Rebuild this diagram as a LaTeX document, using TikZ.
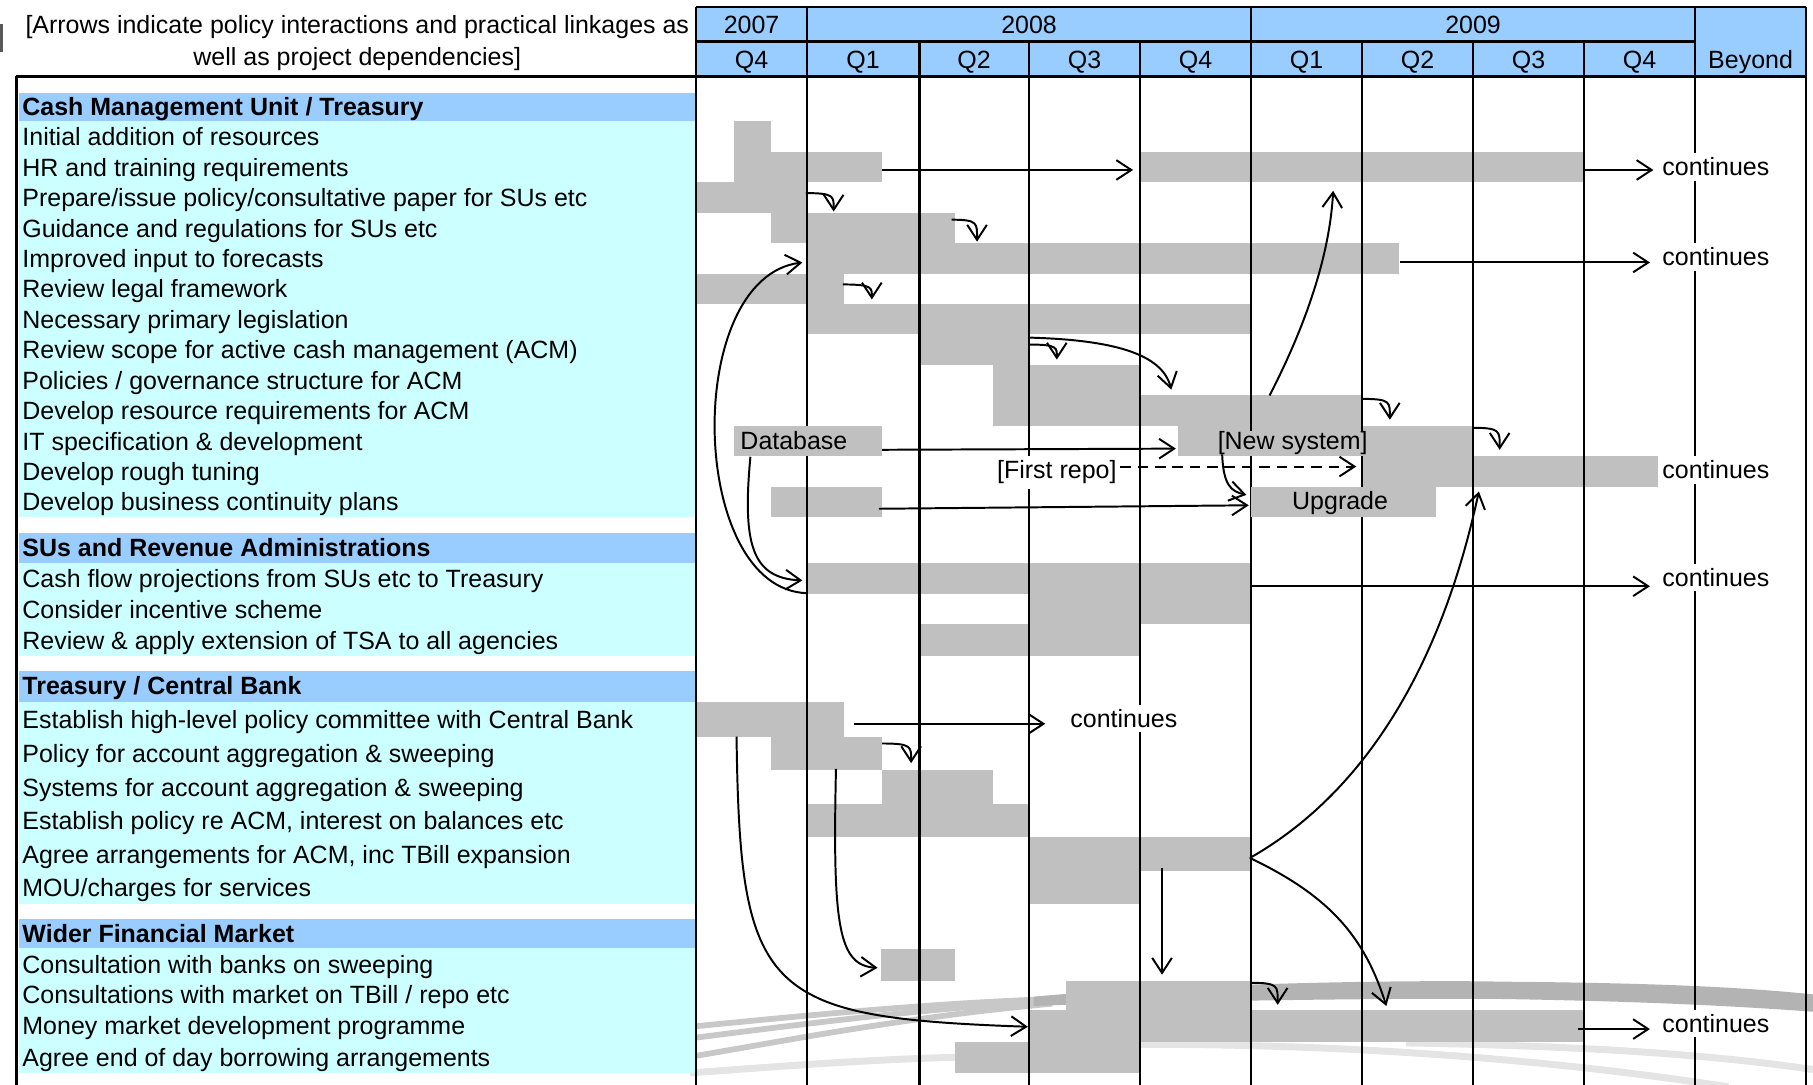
\documentclass[tikz,border=0pt]{standalone}
\usepackage{fontspec}
\setmainfont{Liberation Sans}
\usetikzlibrary{arrows.meta}
\definecolor{hdrblue}{HTML}{99CCFF}
\definecolor{rowcyan}{HTML}{CCFFFF}
\definecolor{barc}{HTML}{C0C0C0}
\definecolor{swband}{HTML}{B3B3B3}
\definecolor{swmid}{HTML}{C8C8C8}
\definecolor{swlight}{HTML}{E4E4E4}
\begin{document}
\begin{tikzpicture}[x=0.5pt,y=-0.5pt,
  every node/.style={font=\fontsize{10.8}{12}\selectfont, inner sep=0pt},
  lbl/.style={anchor=base west},
  sec/.style={anchor=base west, font=\fontsize{10.8}{12}\selectfont\bfseries},
  hdr/.style={anchor=base},
  gridln/.style={line width=1.15pt},
  arr/.style={line width=0.85pt, -{Straight Barb[length=6.5pt,width=8.5pt,line width=0.85pt]}},
  dasharr/.style={arr, dash pattern=on 4.5pt off 3pt},
  cont/.style={anchor=base, fill=white, inner xsep=1.5pt, inner ysep=2pt},
  boxlbl/.style={anchor=base, fill=barc, inner xsep=1pt, inner ysep=0.5pt},
  gbar/.style={fill=barc}]

\useasboundingbox (0,0) rectangle (1568,938);

% ---------- background swoosh ----------
\draw[line width=3pt, swlight] (906,904) .. controls (1100,900) and (1300,910) .. (1495,940);
\draw[line width=3pt, swlight] (1216,902) .. controls (1400,905) and (1500,915) .. (1568,925);
\draw[line width=3pt, swlight] (597,928) .. controls (700,920) and (780,915) .. (845,914);
\draw[line width=2.5pt, swmid] (597,888) .. controls (700,878) and (800,868) .. (910,864);
\draw[line width=2.5pt, swmid] (597,898) .. controls (700,885) and (800,872) .. (910,866);
\draw[line width=2.5pt, swmid] (597,914) .. controls (680,900) and (780,880) .. (910,868);
\fill[swband] (894,862) .. controls (1000,852) and (1200,847) .. (1300,849)
   .. controls (1420,850) and (1500,853) .. (1568,860) -- (1568,875)
   .. controls (1500,870) and (1420,866) .. (1300,864)
   .. controls (1200,863) and (1000,866) .. (894,870) -- cycle;
\fill[gray!70!black] (0,21) rectangle (2.5,45);

% ---------- left column fills ----------
\fill[hdrblue] (16,80) rectangle (602,105);
\fill[rowcyan] (16,105) rectangle (602,447);
\fill[hdrblue] (16,461) rectangle (602,487);
\fill[rowcyan] (16,487) rectangle (602,567);
\fill[hdrblue] (16,580) rectangle (602,607);
\fill[rowcyan] (16,607) rectangle (602,782);
\fill[hdrblue] (16,795) rectangle (602,820);
\fill[rowcyan] (16,820) rectangle (602,928);

% ---------- header fill ----------
\fill[hdrblue] (602,6) rectangle (1562,66);

% ---------- bars ----------
\fill[gbar] (635,105) rectangle (667,131.4);
\fill[gbar] (635,131.4) rectangle (763,157.6);
\fill[gbar] (986,131.4) rectangle (1370,157.6);
\fill[gbar] (602,157.6) rectangle (698,184);
\fill[gbar] (667,184) rectangle (826,210);
\fill[gbar] (698,210) rectangle (1210,236.6);
\fill[gbar] (602,236.6) rectangle (730,263);
\fill[gbar] (698,263) rectangle (1082,289);
\fill[gbar] (795,289) rectangle (890,315.5);
\fill[gbar] (859,315.5) rectangle (986,342);
\fill[gbar] (859,342) rectangle (1178,368);
\fill[gbar] (1019,368) rectangle (1274,394.5);
\fill[gbar] (1178,394.5) rectangle (1434,421);
\fill[gbar] (667,421) rectangle (763,447);
\fill[gbar] (698,487) rectangle (1082,514);
\fill[gbar] (890,514) rectangle (1082,540);
\fill[gbar] (795,540) rectangle (986,567);
\fill[gbar] (602,607) rectangle (730,637);
\fill[gbar] (667,637) rectangle (763,666);
\fill[gbar] (763,666) rectangle (859,695);
\fill[gbar] (698,695) rectangle (890,724);
\fill[gbar] (890,724) rectangle (1082,753);
\fill[gbar] (890,753) rectangle (986,782);
\fill[gbar] (762,821) rectangle (826,848);
\fill[gbar] (922,848) rectangle (1082,873.5);
\fill[gbar] (890,873.5) rectangle (1370,901);
\fill[gbar] (826,901) rectangle (986,928);

% ---------- grid ----------
\draw[gridln] (602,6) -- (1562,6);
\draw[gridln] (602,36) -- (1466,36);
\draw[line width=1.4pt] (14,66) -- (1562,66);
\draw[gridln] (14,66) -- (14,938);
\foreach \gx in {602,698,1082,1466,1562} \draw[gridln] (\gx,6) -- (\gx,938);
\foreach \gx in {795,890,986,1178,1274,1370} \draw[gridln] (\gx,36) -- (\gx,938);

% ---------- header text ----------
\node[hdr] (note1) at (309,29) {[Arrows indicate policy interactions and practical linkages as};
\node[hdr] (note2) at (309,57) {well as project dependencies]};
\node[hdr] (y07) at (650,29) {2007};
\node[hdr] (y08) at (890,29) {2008};
\node[hdr] (y09) at (1274,29) {2009};
\node[hdr] (q0) at (650,59) {Q4};
\node[hdr] (q1) at (746.5,59) {Q1};
\node[hdr] (q2) at (842.5,59) {Q2};
\node[hdr] (q3) at (938,59) {Q3};
\node[hdr] (q4) at (1034,59) {Q4};
\node[hdr] (q5) at (1130,59) {Q1};
\node[hdr] (q6) at (1226,59) {Q2};
\node[hdr] (q7) at (1322,59) {Q3};
\node[hdr] (q8) at (1418,59) {Q4};
\node[hdr] (bey) at (1514,59) {Beyond};

% ---------- left labels ----------
\node[sec] (s1) at (19,100) {Cash Management Unit / Treasury};
\node[lbl] (r1) at (19,126.2) {Initial addition of resources};
\node[lbl] (r2) at (19,152.5) {HR and training requirements};
\node[lbl] (r3) at (19,178.8) {Prepare/issue policy/consultative paper for SUs etc};
\node[lbl] (r4) at (19,205.1) {Guidance and regulations for SUs etc};
\node[lbl] (r5) at (19,231.4) {Improved input to forecasts};
\node[lbl] (r6) at (19,257.7) {Review legal framework};
\node[lbl] (r7) at (19,284) {Necessary primary legislation};
\node[lbl] (r8) at (19,310.3) {Review scope for active cash management (ACM)};
\node[lbl] (r9) at (19,336.6) {Policies / governance structure for ACM};
\node[lbl] (r10) at (19,362.9) {Develop resource requirements for ACM};
\node[lbl] (r11) at (19,389.2) {IT specification \& development};
\node[lbl] (r12) at (19,415.5) {Develop rough tuning};
\node[lbl] (r13) at (19,441.8) {Develop business continuity plans};
\node[sec] (s2) at (19,481.5) {SUs and Revenue Administrations};
\node[lbl] (r14) at (19,508.5) {Cash flow projections from SUs etc to Treasury};
\node[lbl] (r15) at (19,535) {Consider incentive scheme};
\node[lbl] (r16) at (19,561.5) {Review \& apply extension of TSA to all agencies};
\node[sec] (s3) at (19,600.5) {Treasury / Central Bank};
\node[lbl] (r17) at (19,630) {Establish high-level policy committee with Central Bank};
\node[lbl] (r18) at (19,659.5) {Policy for account aggregation \& sweeping};
\node[lbl] (r19) at (19,688.5) {Systems for account aggregation \& sweeping};
\node[lbl] (r20) at (19,717.5) {Establish policy re ACM, interest on balances etc};
\node[lbl] (r21) at (19,746.5) {Agree arrangements for ACM, inc TBill expansion};
\node[lbl] (r22) at (19,775.5) {MOU/charges for services};
\node[sec] (s4) at (19,815) {Wider Financial Market};
\node[lbl] (r23) at (19,841.5) {Consultation with banks on sweeping};
\node[lbl] (r24) at (19,868) {Consultations with market on TBill / repo etc};
\node[lbl] (r25) at (19,895) {Money market development programme};
\node[lbl] (r26) at (19,922.5) {Agree end of day borrowing arrangements};

% ---------- labelled boxes over grid ----------
\fill[gbar] (635,368) rectangle (763,394.5);
\node[anchor=base west] (db) at (640,389) {Database};
\fill[gbar] (1082,421) rectangle (1242,447);
\node[boxlbl] (upg) at (1159,441) {Upgrade};
\node[boxlbl] (newsys) at (1118,389) {[New system]};

% ---------- connector end points ----------
\coordinate (hrA) at (763,147);  \coordinate (hrB) at (980,147);
\coordinate (hrC) at (1370,147); \coordinate (hrD) at (1430,147);
\coordinate (h1s) at (697,167);  \coordinate (h1t) at (721,183);
\coordinate (h2s) at (823,190);  \coordinate (h2t) at (845,209);
\coordinate (h3s) at (729,246);  \coordinate (h3t) at (754,259);
\coordinate (h4s) at (891,298);  \coordinate (h4t) at (914,311);
\coordinate (h5s) at (1179,345); \coordinate (h5t) at (1202,363);
\coordinate (h6s) at (1274,370); \coordinate (h6t) at (1297,389);
\coordinate (h7s) at (763,643);  \coordinate (h7t) at (788,660);
\coordinate (h8s) at (1082,850); \coordinate (h8t) at (1105,869);
\coordinate (a3s) at (891,292);  \coordinate (a3t) at (1013,337);
\coordinate (dbs) at (763,389);  \coordinate (dbt) at (1017,388);
\coordinate (frt) at (1173,403.5);
\coordinate (bcs) at (760,440);  \coordinate (bct) at (1080,437);
\coordinate (a7s) at (1057,393); \coordinate (a7t) at (1078,428);
\coordinate (a8s) at (1098,342); \coordinate (a8t) at (1153,165);
\coordinate (ims) at (1211,227); \coordinate (imt) at (1427,227);
\coordinate (a10s) at (698,513); \coordinate (a10t) at (694,227);
\coordinate (a11s) at (649,395); \coordinate (a11t) at (694,502);
\coordinate (cfs) at (1082,507); \coordinate (cft) at (1427,507);
\coordinate (ehs) at (739,626);  \coordinate (eht) at (904,626);
\coordinate (a15s) at (723,665); \coordinate (a15t) at (759,837);
\coordinate (a16s) at (637,637); \coordinate (a16t) at (889,888);
\coordinate (a17s) at (1005,751); \coordinate (a17t) at (1005,843);
\coordinate (agr) at (1081,742);
\coordinate (a18u) at (1279,425); \coordinate (a18d) at (1199,870);
\coordinate (mms) at (1365,890); \coordinate (mmt) at (1427,890);

% ---------- connectors ----------
\draw[arr] (hrA) -- (hrB);
\draw[arr] (hrC) -- (hrD);
\draw[arr] (h1s) .. controls (722,167) and (721,170) .. (h1t);
\draw[arr] (h2s) .. controls (846,190) and (845,193) .. (h2t);
\draw[arr] (h3s) .. controls (755,246) and (754,249) .. (h3t);
\draw[arr] (h4s) .. controls (915,298) and (914,301) .. (h4t);
\draw[arr] (h5s) .. controls (1203,345) and (1202,348) .. (h5t);
\draw[arr] (h6s) .. controls (1298,370) and (1297,373) .. (h6t);
\draw[arr] (h7s) .. controls (789,643) and (788,646) .. (h7t);
\draw[arr] (h8s) .. controls (1106,850) and (1105,853) .. (h8t);
\draw[arr] (a3s) .. controls (960,294) and (1005,305) .. (a3t);
\draw[arr] (dbs) -- (dbt);
\draw[arr] (bcs) -- (bct);
\draw[arr] (a7s) .. controls (1058,420) and (1065,425) .. (a7t);
\draw[arr] (a8s) .. controls (1130,280) and (1150,220) .. (a8t);
\draw[arr] (ims) -- (imt);
\draw[arr] (a10s) .. controls (595,510) and (590,240) .. (a10t);
\draw[arr] (a11s) .. controls (642,470) and (650,500) .. (a11t);
\draw[arr] (cfs) -- (cft);
\draw[arr] (ehs) -- (eht);
\draw[arr] (a15s) .. controls (720,800) and (725,835) .. (a15t);
\draw[arr] (a16s) .. controls (640,860) and (660,880) .. (a16t);
\draw[arr] (a17s) -- (a17t);
\draw[arr] (agr) .. controls (1190,680) and (1250,560) .. (a18u);
\draw[arr] (agr) .. controls (1150,775) and (1180,810) .. (a18d);
\draw[arr] (mms) -- (mmt);

% ---------- white-backed texts ----------
\node[cont] (frepo) at (914,414) {[First repo]};
\draw[dasharr] (frepo.east |- frt) -- (frt);
\node[cont] (c1) at (1484,152) {continues};
\node[cont] (c2) at (1484,230) {continues};
\node[cont] (c3) at (1484,414) {continues};
\node[cont] (c4) at (1484,507) {continues};
\node[cont] (c5) at (972,629) {continues};
\node[cont] (c6) at (1484,893) {continues};
\end{tikzpicture}
\end{document}
